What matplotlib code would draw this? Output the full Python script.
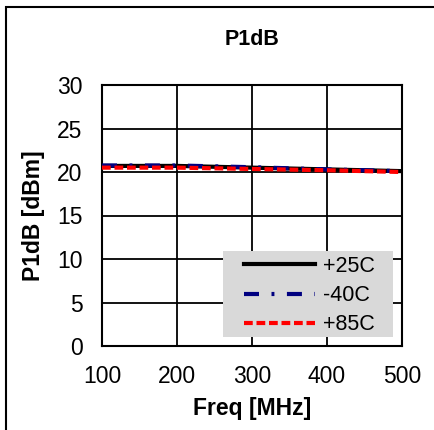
import matplotlib.pyplot as plt
from matplotlib.patches import Rectangle

plt.rcParams['font.family'] = ['Liberation Sans', 'DejaVu Sans']

freq = [100, 200, 300, 400, 500]
p25 = [20.7, 20.7, 20.5, 20.3, 20.1]
m40 = [20.75, 20.75, 20.55, 20.3, 20.1]
p85 = [20.5, 20.5, 20.35, 20.2, 20.0]

fig = plt.figure(figsize=(4.34, 4.30), dpi=100)
ax = fig.add_axes([102 / 434, 1 - 346 / 430, 300 / 434, 261 / 430])

ax.plot(freq, p25, color='black', lw=3, label='+25C', zorder=3)
ax.plot(freq, m40, color='#000080', lw=3, dashes=(3.6, 3, 0.7, 3), label='-40C', zorder=4)
ax.plot(freq, p85, color='#ff0000', lw=3, dashes=(2.1, 0.9), label='+85C', zorder=5)

ax.set_xlim(100, 500)
ax.set_ylim(0, 30)
ax.set_xticks([100, 200, 300, 400, 500])
ax.set_yticks(range(0, 31, 5))
ax.grid(True, color='black', lw=1.3)
for s in ax.spines.values():
    s.set_linewidth(1.5)
ax.tick_params(axis='both', length=0, labelsize=16.5)
ax.tick_params(axis='x', pad=14)
ax.tick_params(axis='y', pad=14)

ax.set_title('P1dB', fontsize=15.5, fontweight='bold', pad=29)
ax.set_xlabel('Freq [MHz]', fontsize=16.5, fontweight='bold', labelpad=6)
ax.set_ylabel('P1dB [dBm]', fontsize=16.5, fontweight='bold', labelpad=9)

# grey legend background, wider than the legend text block
ax.add_patch(Rectangle((0.403, 0.0345), 0.567, 0.33, transform=ax.transAxes,
                       facecolor='#d9d9d9', edgecolor='none', zorder=2))
leg = ax.legend(loc='upper left', bbox_to_anchor=(0.473, 0.345), fontsize=15.5,
                frameon=False, handlelength=3.3, handletextpad=0.37,
                borderpad=0, borderaxespad=0, labelspacing=0.38)

# outer chart border
fig.patches.append(Rectangle((6 / 434, -0.1), 1.2, 1 - 7 / 430 + 0.1,
                             transform=fig.transFigure, fill=False,
                             edgecolor='black', lw=1.5))

plt.savefig('out.png', dpi=100)
